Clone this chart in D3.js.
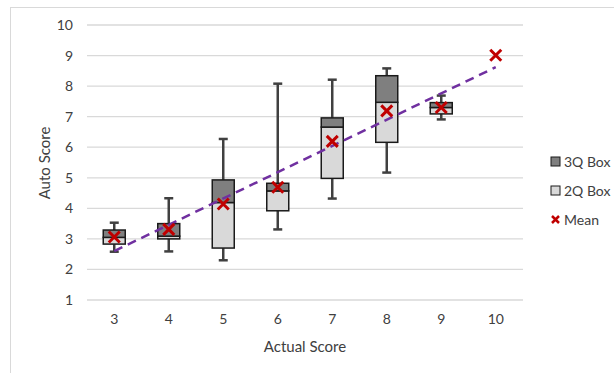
<!DOCTYPE html>
<html><head><meta charset="utf-8">
<script src="https://cdn.jsdelivr.net/npm/d3@7"></script>
<style>body{margin:0;background:#fff;} svg{display:block;font-family:Lato,"Open Sans",sans-serif;}</style>
</head><body>
<svg id="c" width="614" height="373"></svg>
<script>
const categories = [3, 4, 5, 6, 7, 8, 9, 10];
const whiskerMin = [2.58, 2.59, 2.30, 3.31, 4.32, 5.17, 6.91, null];
const q1 =         [2.83, 3.00, 2.70, 3.92, 4.98, 6.16, 7.09, null];
const median =     [3.05, 3.09, 4.19, 4.57, 6.66, 7.47, 7.30, null];
const q3 =         [3.29, 3.50, 4.93, 4.82, 6.96, 8.34, 7.46, null];
const whiskerMax = [3.53, 4.33, 6.27, 8.08, 8.21, 8.58, 7.69, null];
const means =      [3.06, 3.31, 4.14, 4.69, 6.19, 7.19, 7.30, 9.01];
const yTicks = [1, 2, 3, 4, 5, 6, 7, 8, 9, 10];
const legendItems = ["3Q Box", "2Q Box", "Mean"];

const txt = "#404040";
const svg = d3.select("#c");
// outer border
svg.append("rect").attr("x", 10.5).attr("y", 7.5).attr("width", 614).attr("height", 380)
  .attr("fill", "none").attr("stroke", "#d9d9d9").attr("stroke-width", 1);

const x = d3.scaleBand().domain(categories).range([87, 523]).paddingInner(0).paddingOuter(0);
const y = d3.scaleLinear().domain([1, 10]).range([300, 25]);

// gridlines
svg.append("g").selectAll("line").data(yTicks).join("line")
  .attr("x1", 87).attr("x2", 523).attr("y1", d => y(d)).attr("y2", d => y(d))
  .attr("stroke", "#d9d9d9").attr("stroke-width", 1.3);

// y axis labels
const yAxis = d3.axisLeft(y).tickValues(yTicks).tickSize(0).tickPadding(0);
const gy = svg.append("g").attr("transform", "translate(73,0)").call(yAxis);
gy.select(".domain").remove();
gy.selectAll("text").attr("font-size", 14).attr("fill", txt).attr("font-family", "Lato,'Open Sans',sans-serif");

const xAxis = d3.axisBottom(x).tickSize(0).tickPadding(0);
const gx = svg.append("g").attr("transform", "translate(0,314)").call(xAxis);
gx.select(".domain").remove();
gx.selectAll("text").attr("font-size", 14).attr("fill", txt).attr("font-family", "Lato,'Open Sans',sans-serif");

// axis titles
svg.append("text").attr("x", 305).attr("y", 352).attr("text-anchor", "middle")
  .attr("font-size", 15).attr("fill", txt).text("Actual Score");
svg.append("text").attr("transform", "translate(50,163) rotate(-90)").attr("text-anchor", "middle")
  .attr("font-size", 15).attr("fill", txt).text("Auto Score");

const data = categories.map((c, i) => ({c, lo: whiskerMin[i], q1: q1[i], med: median[i], q3: q3[i], hi: whiskerMax[i], mean: means[i]}));
const boxW = 22, capW = 9;
const cx = d => x(d.c) + x.bandwidth() / 2;
const boxes = data.filter(d => d.q1 != null);

const g = svg.append("g");
// whiskers
g.selectAll(".wl").data(boxes).join("line")
  .attr("x1", cx).attr("x2", cx).attr("y1", d => y(d.hi)).attr("y2", d => y(d.q3))
  .attr("stroke", "#404040").attr("stroke-width", 2.5);
g.selectAll(".wl2").data(boxes).join("line")
  .attr("x1", cx).attr("x2", cx).attr("y1", d => y(d.q1)).attr("y2", d => y(d.lo))
  .attr("stroke", "#404040").attr("stroke-width", 2.5);
g.selectAll(".ct").data(boxes).join("line")
  .attr("x1", d => cx(d) - capW / 2).attr("x2", d => cx(d) + capW / 2).attr("y1", d => y(d.hi)).attr("y2", d => y(d.hi))
  .attr("stroke", "#404040").attr("stroke-width", 2.5);
g.selectAll(".cb").data(boxes).join("line")
  .attr("x1", d => cx(d) - capW / 2).attr("x2", d => cx(d) + capW / 2).attr("y1", d => y(d.lo)).attr("y2", d => y(d.lo))
  .attr("stroke", "#404040").attr("stroke-width", 2.5);
// 2Q boxes
g.selectAll(".b2").data(boxes).join("rect")
  .attr("x", d => cx(d) - boxW / 2).attr("width", boxW)
  .attr("y", d => y(d.med)).attr("height", d => y(d.q1) - y(d.med))
  .attr("fill", "#d9d9d9").attr("stroke", "#1a1a1a").attr("stroke-width", 1.5);
// 3Q boxes
g.selectAll(".b3").data(boxes).join("rect")
  .attr("x", d => cx(d) - boxW / 2).attr("width", boxW)
  .attr("y", d => y(d.q3)).attr("height", d => y(d.med) - y(d.q3))
  .attr("fill", "#7f7f7f").attr("stroke", "#1a1a1a").attr("stroke-width", 1.5);

// linear trendline of means
const n = data.length;
const mx = d3.mean(data, d => d.c), my = d3.mean(data, d => d.mean);
const slope = d3.sum(data, d => (d.c - mx) * (d.mean - my)) / d3.sum(data, d => (d.c - mx) ** 2);
const icpt = my - slope * mx;
const xl = c => x(c) + x.bandwidth() / 2;
svg.append("line")
  .attr("x1", xl(categories[0])).attr("y1", y(icpt + slope * categories[0]))
  .attr("x2", xl(categories[n - 1])).attr("y2", y(icpt + slope * categories[n - 1]))
  .attr("stroke", "#7030a0").attr("stroke-width", 2.5).attr("stroke-dasharray", "9,6");

// mean markers
const xs = 5.5;
const mg = svg.append("g").selectAll("g").data(data).join("g")
  .attr("transform", d => `translate(${cx(d)},${y(d.mean)})`);
mg.append("path").attr("d", `M${-xs},${-xs}L${xs},${xs}M${-xs},${xs}L${xs},${-xs}`)
  .attr("stroke", "#c00000").attr("stroke-width", 3);

// legend
const lg = svg.append("g").attr("transform", "translate(551,0)");
const ly = [162, 191, 220];
lg.append("rect").attr("x", 0).attr("y", ly[0] - 5).attr("width", 9).attr("height", 9)
  .attr("fill", "#7f7f7f").attr("stroke", "#1a1a1a").attr("stroke-width", 1);
lg.append("rect").attr("x", 0).attr("y", ly[1] - 5).attr("width", 9).attr("height", 9)
  .attr("fill", "#d9d9d9").attr("stroke", "#1a1a1a").attr("stroke-width", 1);
lg.append("path").attr("d", `M1,${ly[2]-4}L8,${ly[2]+3}M1,${ly[2]+3}L8,${ly[2]-4}`)
  .attr("stroke", "#c00000").attr("stroke-width", 2.5);
lg.selectAll("text").data(legendItems).join("text")
  .attr("x", 13).attr("y", (d, i) => ly[i]).attr("dy", "0.35em")
  .attr("font-size", 14).attr("fill", txt).text(d => d);
</script>
</body></html>
